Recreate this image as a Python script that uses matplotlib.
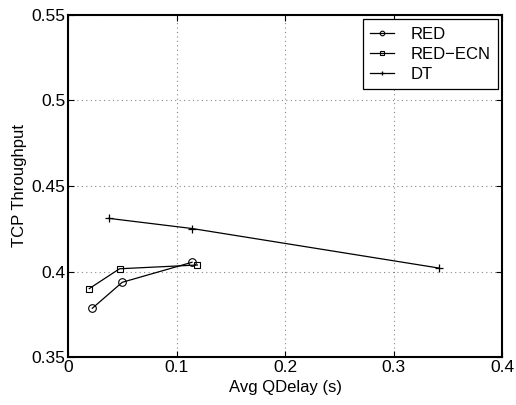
import matplotlib
matplotlib.use("Agg")
import matplotlib.pyplot as plt

plt.rcParams['font.family'] = ['Liberation Sans', 'DejaVu Sans']

red_x = [0.0224, 0.050, 0.1143]
red_y = [0.3785, 0.3937, 0.4054]
ecn_x = [0.0196, 0.0475, 0.1192]
ecn_y = [0.3900, 0.4016, 0.4038]
dt_x = [0.0374, 0.1147, 0.342]
dt_y = [0.4311, 0.4251, 0.4020]

xticks = [0, 0.1, 0.2, 0.3, 0.4]
yticks = [0.35, 0.4, 0.45, 0.5, 0.55]

fig = plt.figure(figsize=(5.16, 4.05), dpi=100)
ax = fig.add_axes([0.1318, 0.1185, 0.8412, 0.8445])

ax.plot(red_x, red_y, '-', color='black', lw=0.9, marker='o', ms=5.5,
        mfc='none', mec='black', mew=0.8, label='RED')
ax.plot(ecn_x, ecn_y, '-', color='black', lw=0.9, marker='s', ms=4.5,
        mfc='none', mec='black', mew=0.8, label='RED\u2212ECN')
ax.plot(dt_x, dt_y, '-', color='black', lw=0.9, marker='+', ms=6,
        mec='black', mew=0.9, label='DT')

ax.set_xlim(0, 0.4)
ax.set_ylim(0.35, 0.55)
ax.set_xticks(xticks)
ax.set_xticklabels(['0', '0.1', '0.2', '0.3', '0.4'])
ax.set_yticks(yticks)
ax.set_yticklabels(['0.35', '0.4', '0.45', '0.5', '0.55'])
ax.tick_params(direction='in', labelsize=12.5, length=4, width=0.8,
               top=True, right=True, pad=2)
ax.grid(True, linestyle=(0, (1, 3)), color='#888888', lw=0.8)
for s in ax.spines.values():
    s.set_linewidth(1.5)

ax.set_xlabel('Avg QDelay (s)', fontsize=12, labelpad=4)
ax.set_ylabel('TCP Throughput', fontsize=12, labelpad=3)

leg = ax.legend(loc='upper right', fontsize=12, frameon=True, fancybox=False,
                edgecolor='black', framealpha=1, borderpad=0.45,
                labelspacing=0.3, handlelength=1.4, handletextpad=1.0,
                borderaxespad=0.25, markerscale=0.6)
leg.get_frame().set_linewidth(0.9)

fig.savefig('out.png', dpi=100)
